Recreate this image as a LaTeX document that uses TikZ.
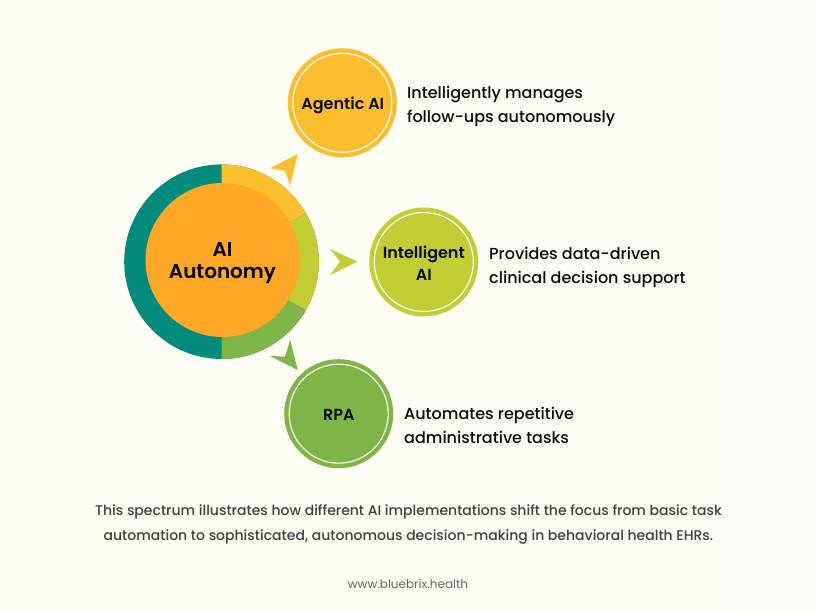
\documentclass[tikz,border=0pt]{standalone}
\usepackage{fontspec}
\setmainfont{Poppins}
\newfontfamily\pmed{Poppins Medium}
\newfontfamily\psemi{Poppins SemiBold}
\definecolor{bgcream}{HTML}{FFFDF2}
\definecolor{bgwhite}{HTML}{FFFFFD}
\definecolor{bgright}{HTML}{FDFCF6}
\definecolor{ayellow}{HTML}{FDBE2E}
\definecolor{alime}{HTML}{C1CD33}
\definecolor{agreen}{HTML}{7FB546}
\definecolor{ateal}{HTML}{008C7C}
\definecolor{aorange}{HTML}{FFA726}
\definecolor{ink}{HTML}{0A0A0A}
\tikzset{
  x=1pt,y=-1pt,
  badge/.style={circle,draw=white,line width=1.1pt,minimum size=99pt,inner sep=0pt},
  badgetext/.style={align=center,inner sep=0pt,font=\psemi\fontsize{16}{22}\selectfont,text=ink},
  desc/.style={anchor=west,inner sep=0pt,align=left,font=\pmed\fontsize{16}{24}\selectfont,text=ink},
  note/.style={align=center,font=\pmed\fontsize{14}{25}\selectfont,text=black!75},
}
\begin{document}
\begin{tikzpicture}
\useasboundingbox (0,0) rectangle (816,612);
\shade[left color=bgcream,middle color=bgwhite,right color=bgright] (0,0) rectangle (816,612);
% ring
\fill[ateal] (221.5,261.7) circle[radius=97.3];
\fill[ayellow] (221.5,261.7) -- (221.5,164.4) arc[start angle=-90,end angle=-30,radius=97.3] -- cycle;
\fill[alime] (221.5,261.7) -- (305.8,213.05) arc[start angle=-30,end angle=30,radius=97.3] -- cycle;
\fill[agreen] (221.5,261.7) -- (305.8,310.35) arc[start angle=30,end angle=90,radius=97.3] -- cycle;
\node[circle,fill=aorange,minimum size=154pt,inner sep=0pt] (core) at (222.5,260) {};
\node[align=center,inner sep=0pt,font=\psemi\fontsize{20}{21.5}\selectfont,text=black] (coretext) at (222.5,263) {AI\\Autonomy};
% arrows
\fill[ayellow] (297.7,154) -- (270,168.3) -- (285,170.7) -- (290.3,185) -- cycle;
\fill[alime] (357.7,261.7) -- (330,249) -- (340,261.7) -- (330,275) -- cycle;
\fill[agreen] (297.7,370) -- (270,356) -- (285,356.7) -- (290.3,340) -- cycle;
% badges
\fill[ayellow] (342.3,102.8) circle[radius=54.5];
\node[badge,fill=ayellow] (agentic) at (342.3,102.8) {};
\node[badgetext] (agentictext) at (342.8,105) {Agentic AI};
\fill[alime] (423.8,262) circle[radius=54.5];
\node[badge,fill=alime] (intelligent) at (423.8,262) {};
\node[badgetext] (intelligenttext) at (423.8,263) {Intelligent\\AI};
\fill[agreen] (338.7,413.7) circle[radius=54.5];
\node[badge,fill=agreen] (rpa) at (338.7,413.7) {};
\node[badgetext] (rpatext) at (338.9,414.5) {RPA};
% descriptions
\node[desc] (d1) at (407,106) {Intelligently manages\\follow-ups autonomously};
\node[desc] (d2) at (489,267) {Provides data-driven\\clinical decision support};
\node[desc] (d3) at (404,425) {Automates repetitive\\administrative tasks};
\node[note] (n) at (408.5,524) {This spectrum illustrates how different AI implementations shift the focus from basic task\\automation to sophisticated, autonomous decision-making in behavioral health EHRs.};
\node[font=\fontsize{12}{14}\selectfont,text=black!60] (web) at (408,584) {www.bluebrix.health};
\end{tikzpicture}
\end{document}
